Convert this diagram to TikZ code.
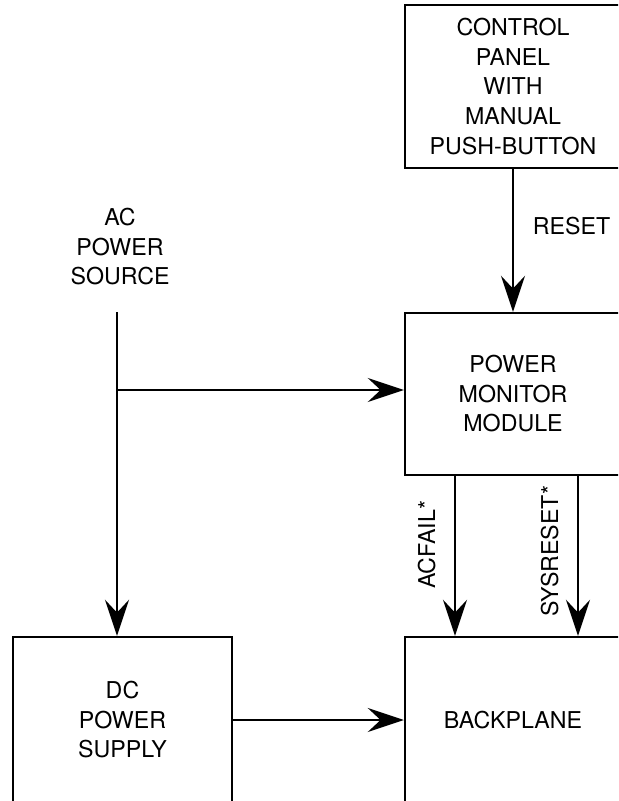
\documentclass[tikz,border=0pt]{standalone}
\usepackage{fontspec}
\setmainfont{TeX Gyre Heros}
\usetikzlibrary{arrows.meta,positioning,calc}

\begin{document}
\begin{tikzpicture}[
  x=0.025cm, y=-0.025cm,
  >={Stealth[length=0.9cm,width=0.6cm,inset=0.32cm]},
  font=\fontsize{16.5}{21}\selectfont,
  line width=1.7pt,
  blk/.style={draw,minimum width=5.4cm,align=center,inner sep=0pt},
  sig/.style={rotate=90,anchor=south,outer sep=10.5pt},
]
\useasboundingbox (0,0) rectangle (618,801);
\clip (0,0) rectangle (618,801);

\node[blk,minimum height=4.075cm] (ctrl) at (513,86.5) {CONTROL\\PANEL\\WITH\\MANUAL\\PUSH-BUTTON};
\node[blk,minimum height=4.05cm] (pmm) at (513,394) {POWER\\MONITOR\\MODULE};
\node[blk,minimum height=4.15cm] (bkpl) at (513,720) {BACKPLANE};
\node[blk,minimum width=5.475cm,minimum height=4.15cm] (dcps) at (122.5,720) {DC\\POWER\\SUPPLY};
\node[align=center] (acsrc) at (120,247) {AC\\POWER\\SOURCE};
\coordinate (acstart) at (117,312);
\coordinate (tap) at (117,390);

\draw[->] (acstart) -- (acstart |- dcps.north);
\draw[->] (tap) -- (tap -| pmm.west);
\draw[->] (dcps.east) -- (bkpl.west);
\draw[->] (ctrl.south) -- node[pos=0.4,right=10pt]{RESET} (pmm.north);
\draw[->] ($(pmm.south)+(-58,0)$) coordinate (acf) -- node[sig,pos=0.43]{ACFAIL*} (acf |- bkpl.north);
\draw[->] ($(pmm.south)+(65,0)$) coordinate (srs) -- node[sig,pos=0.47]{SYSRESET*} (srs |- bkpl.north);
\end{tikzpicture}
\end{document}
